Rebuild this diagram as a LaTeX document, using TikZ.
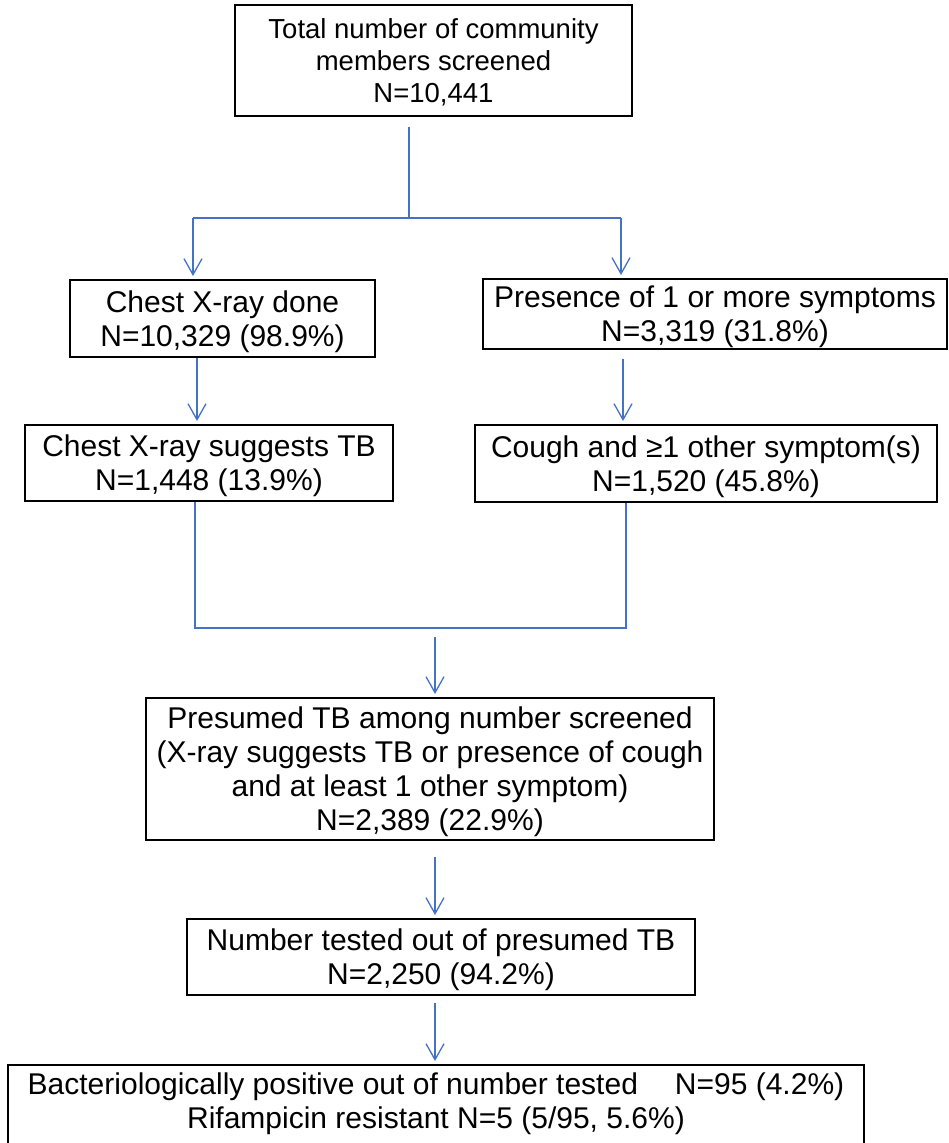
\documentclass[tikz,border=0pt]{standalone}
\usepackage{fontspec}
\setmainfont{Liberation Sans}
\usetikzlibrary{arrows.meta}
\definecolor{lnblue}{HTML}{4472C4}
\tikzset{
  box/.style={draw=black, line width=2pt, inner sep=0pt, align=center, text depth=0pt,
    font=\fontsize{30}{34}\selectfont},
  conn/.style={draw=lnblue, line width=1.3pt},
  arr/.style={conn, -{Straight Barb[length=16pt,width=18pt]}, shorten >=3pt},
}
\begin{document}
\begin{tikzpicture}[x=1pt,y=-1pt]
\useasboundingbox (0,0) rectangle (948,1143);
\clip (0,0) rectangle (948,1143);
% boxes
\node[box, minimum width=397pt, minimum height=111pt, font=\fontsize{27.5}{32}\selectfont] (top) at (433.5,60.5)
  {Total number of community\\members screened\\N=10,441};
\node[box, minimum width=305pt, minimum height=77pt] (done) at (222.5,318.5)
  {Chest X-ray done\\N=10,329 (98.9\%)};
\node[box, minimum width=464pt, minimum height=70pt] (pres) at (715,314)
  {Presence of 1 or more symptoms\\N=3,319 (31.8\%)};
\node[box, minimum width=368pt, minimum height=76pt] (sugg) at (209,463)
  {Chest X-ray suggests TB\\N=1,448 (13.9\%)};
\node[box, minimum width=462pt, minimum height=77pt] (cough) at (706,463.5)
  {Cough and ≥1 other symptom(s)\\N=1,520 (45.8\%)};
\node[box, minimum width=568pt, minimum height=142pt] (presum) at (430,769)
  {Presumed TB among number screened\\(X-ray suggests TB or presence of cough\\and at least 1 other symptom)\\N=2,389 (22.9\%)};
\node[box, minimum width=508pt, minimum height=76pt] (tested) at (441,957)
  {Number tested out of presumed TB\\N=2,250 (94.2\%)};
\node[box, minimum width=856pt, inner ysep=8pt, text depth=12pt, anchor=north] (bact) at (436,1064)
  {Bacteriologically positive out of number tested\hspace{37pt}N=95 (4.2\%)\\Rifampicin resistant N=5 (5/95, 5.6\%)};
% junction coordinates
\coordinate (j1) at (409,218);
\coordinate (cl) at (193,218);
\coordinate (cr) at (621,218);
\coordinate (x1) at (197,0);
\coordinate (x2) at (623,0);
\coordinate (ml) at (195,628);
\coordinate (mr) at (626,628);
\coordinate (mc) at (435,637);
\coordinate (x3) at (435,0);
% connectors
\draw[conn, shorten <=10pt] (top.south -| j1) -- (j1);
\draw[conn] (cl) -- (cr);
\draw[arr] (cl) -- (done.north -| cl);
\draw[arr] (cr) -- (pres.north -| cr);
\draw[arr] (done.south -| x1) -- (sugg.north -| x1);
\draw[arr, shorten <=9pt] (pres.south -| x2) -- (cough.north -| x2);
\draw[conn] (sugg.south -| ml) -- (ml) -- (mr) -- (cough.south -| mr);
\draw[arr] (mc) -- (presum.north -| mc);
\draw[arr, shorten <=16pt] (presum.south -| x3) -- (tested.north -| x3);
\draw[arr, shorten <=7pt] (tested.south -| x3) -- (bact.north -| x3);
\end{tikzpicture}
\end{document}
